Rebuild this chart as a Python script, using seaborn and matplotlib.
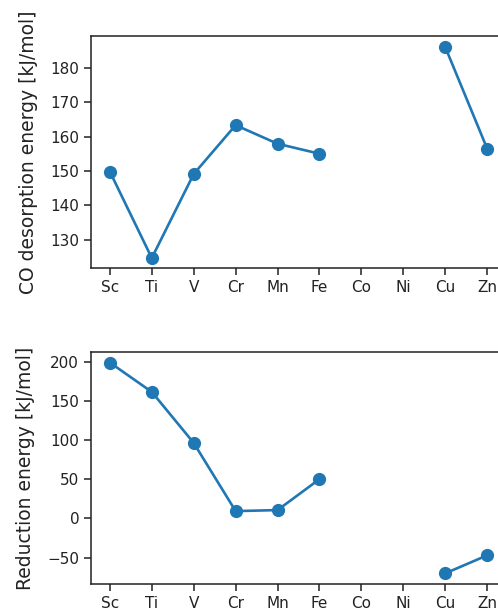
import numpy as np
import pandas as pd
import matplotlib
matplotlib.use("Agg")
import matplotlib.pyplot as plt
import seaborn as sns

metals = ["Sc", "Ti", "V", "Cr", "Mn", "Fe", "Co", "Ni", "Cu", "Zn"]
co_desorption = [149.8, 124.7, 149.1, 163.3, 157.9, 155.0, np.nan, np.nan, 186.0, 156.5]
reduction = [199.0, 161.5, 96.4, 9.3, 10.6, 50.1, np.nan, np.nan, -70.2, -47.2]

top_ylabel = "CO desorption energy [kJ/mol]"
bottom_ylabel = "Reduction energy [kJ/mol]"
top_yticks = [130, 140, 150, 160, 170, 180]
bottom_yticks = [-50, 0, 50, 100, 150, 200]

plt.rcParams["font.family"] = ["DejaVu Sans"]
plt.rcParams["font.size"] = 11

COLOR = "#1f77b4"


def make_frame(values):
    df = pd.DataFrame({"pos": np.arange(len(metals)), "metal": metals, "value": values})
    df["segment"] = df["value"].isna().cumsum()
    return df.dropna(subset=["value"])


fig = plt.figure(figsize=(4.98, 6.09), dpi=100)
ax1 = fig.add_axes([91 / 498, (609 - 268) / 609, 415 / 498, 232 / 609])
ax2 = fig.add_axes([91 / 498, (609 - 584) / 609, 415 / 498, 232 / 609])

for ax, vals, lab, yt in [
    (ax1, co_desorption, top_ylabel, top_yticks),
    (ax2, reduction, bottom_ylabel, bottom_yticks),
]:
    df = make_frame(vals)
    sns.lineplot(
        data=df, x="pos", y="value", units="segment", estimator=None,
        color=COLOR, marker="o", markersize=9.5, linewidth=1.9,
        markeredgewidth=0, ax=ax, legend=False,
    )
    ax.set_xticks(np.arange(len(metals)))
    ax.set_xticklabels(metals, fontsize=11)
    ax.set_xlim(-0.45, len(metals) - 1 + 0.45)
    ax.set_yticks(yt)
    ax.tick_params(axis="both", labelsize=11, length=5, width=1.1, color="#222222", labelcolor="#222222")
    ax.set_xlabel("")
    ax.set_ylabel(lab, fontsize=13.5, color="#222222", labelpad=9)
    for s in ax.spines.values():
        s.set_linewidth(1.1)
        s.set_color("#222222")

ax1.set_ylim(121.8, 189.2)
ax2.set_ylim(-83.8, 212.5)

fig.savefig("out.png", dpi=100)
